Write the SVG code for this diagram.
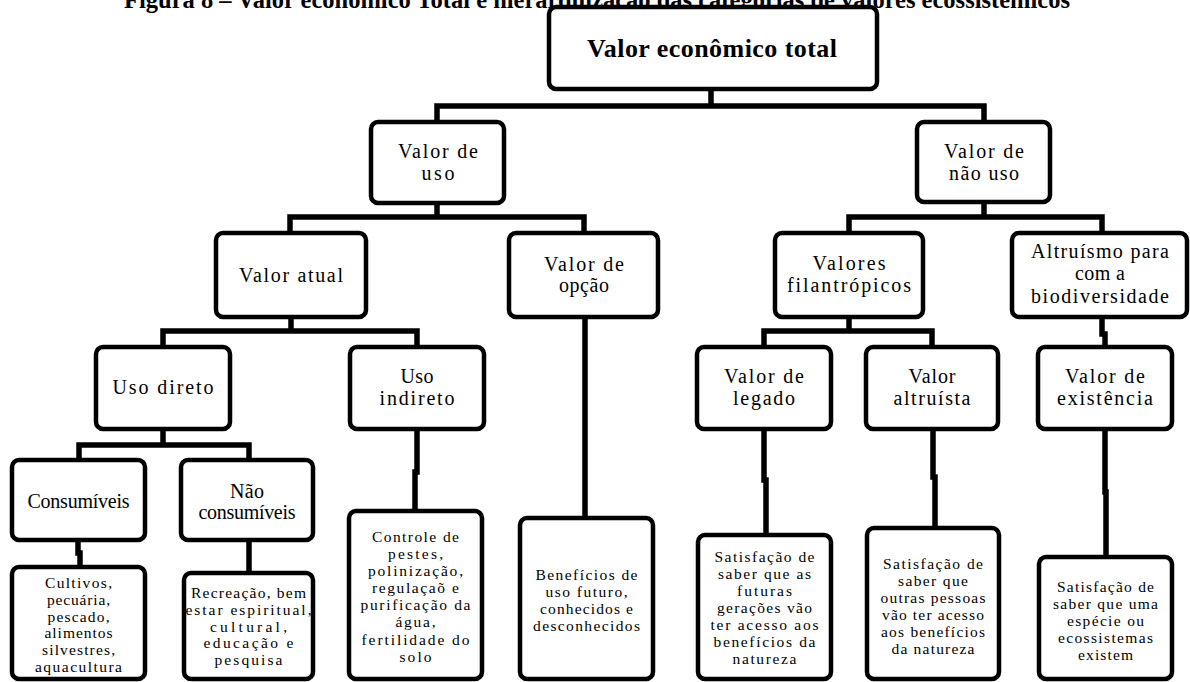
<svg xmlns="http://www.w3.org/2000/svg" width="1190" height="682" viewBox="0 0 1190 682">
<style>
.box{fill:#fff;stroke:#000;stroke-width:4.5}
.conn{fill:none;stroke:#000;stroke-width:5.5;stroke-linejoin:miter;stroke-linecap:butt}
.lbl{font-family:"Liberation Serif","Times New Roman",serif;font-size:20px;text-anchor:middle;fill:#000}
.sm{font-family:"Liberation Serif","Times New Roman",serif;font-size:15.5px;text-anchor:middle;fill:#000}
.ttl{font-family:"Liberation Serif","Times New Roman",serif;font-weight:bold;text-anchor:middle;fill:#000}
</style>
<rect width="1190" height="682" fill="#fff"/>
<text class="ttl" x="597" y="8" font-size="24.5">Figura 8 – Valor econômico Total e hierarquização das categorias de valores ecossistêmicos</text>
<g id="connectors">
<path class="conn" d="M711,89 V106"/>
<path class="conn" d="M437,122 V106 H984 V122"/>
<path class="conn" d="M437,203 V217"/>
<path class="conn" d="M290,233 V217 H584 V233"/>
<path class="conn" d="M984,202 V217"/>
<path class="conn" d="M849,233 V217 H1102 V233"/>
<path class="conn" d="M291,317 V331"/>
<path class="conn" d="M163,347 V331 H417 V347"/>
<path class="conn" d="M849,317 V331"/>
<path class="conn" d="M764,347 V331 H932 V347"/>
<path class="conn" d="M1102,317 V334 H1105 V347"/>
<path class="conn" d="M163,429 V445"/>
<path class="conn" d="M79,460 V445 H249 V460"/>
<path class="conn" d="M78,540 V553 H80 V567"/>
<path class="conn" d="M249,540 V573"/>
<path class="conn" d="M417,429 V472 H415 V511"/>
<path class="conn" d="M585,317 V518"/>
<path class="conn" d="M764,429 V480 H766 V535"/>
<path class="conn" d="M933,429 V477 H935 V528"/>
<path class="conn" d="M1105,429 V492 H1106 V557"/>
</g>
<g id="n-total"><rect class="box" x="549" y="7" width="328" height="82" rx="7"/><text class="ttl" x="712" y="57" font-size="26" textLength="250" lengthAdjust="spacing">Valor econômico total</text></g>
<g id="n-uso"><rect class="box" x="371" y="122" width="133" height="81" rx="7"/><text class="lbl" x="438" y="158" textLength="80">Valor de</text><text class="lbl" x="438" y="180" textLength="33">uso</text></g>
<g id="n-naouso"><rect class="box" x="917" y="122" width="133" height="80" rx="7"/><text class="lbl" x="984" y="158" textLength="80">Valor de</text><text class="lbl" x="984" y="180" textLength="70">não uso</text></g>
<g id="n-atual"><rect class="box" x="216" y="233" width="150" height="84" rx="7"/><text class="lbl" x="291" y="282" textLength="104">Valor atual</text></g>
<g id="n-opcao"><rect class="box" x="509" y="233" width="149" height="84" rx="7"/><text class="lbl" x="584" y="271" textLength="80">Valor de</text><text class="lbl" x="584" y="292" textLength="50">opção</text></g>
<g id="n-filan"><rect class="box" x="775" y="233" width="148" height="84" rx="7"/><text class="lbl" x="849" y="270" textLength="73">Valores</text><text class="lbl" x="849" y="292" textLength="124">filantrópicos</text></g>
<g id="n-altru"><rect class="box" x="1012" y="233" width="175" height="84" rx="7"/><text class="lbl" x="1100" y="258" textLength="138">Altruísmo para</text><text class="lbl" x="1100" y="280" textLength="50">com a</text><text class="lbl" x="1100" y="303" textLength="138">biodiversidade</text></g>
<g id="n-direto"><rect class="box" x="96" y="347" width="134" height="82" rx="7"/><text class="lbl" x="163" y="394" textLength="101">Uso direto</text></g>
<g id="n-indireto"><rect class="box" x="350" y="347" width="134" height="82" rx="7"/><text class="lbl" x="417" y="383" textLength="33">Uso</text><text class="lbl" x="417" y="405" textLength="75">indireto</text></g>
<g id="n-legado"><rect class="box" x="697" y="347" width="134" height="82" rx="7"/><text class="lbl" x="764" y="383" textLength="80">Valor de</text><text class="lbl" x="764" y="405" textLength="62">legado</text></g>
<g id="n-altruista"><rect class="box" x="866" y="347" width="132" height="82" rx="7"/><text class="lbl" x="932" y="383" textLength="47">Valor</text><text class="lbl" x="932" y="405" textLength="77">altruísta</text></g>
<g id="n-existencia"><rect class="box" x="1038" y="347" width="134" height="82" rx="7"/><text class="lbl" x="1105" y="383" textLength="80">Valor de</text><text class="lbl" x="1105" y="405" textLength="96">existência</text></g>
<g id="n-consum"><rect class="box" x="12" y="460" width="133" height="80" rx="7"/><text class="lbl" x="78.5" y="508" textLength="102">Consumíveis</text></g>
<g id="n-naoconsum"><rect class="box" x="181" y="460" width="132" height="80" rx="7"/><text class="lbl" x="247" y="498" textLength="34">Não</text><text class="lbl" x="247" y="519" textLength="97">consumíveis</text></g>
<g id="d-cultivos"><rect class="box" x="12" y="567" width="133" height="112" rx="7"/>
<text class="sm" x="78.5" y="588" textLength="67">Cultivos,</text><text class="sm" x="78.5" y="605" textLength="63">pecuária,</text><text class="sm" x="78.5" y="622" textLength="62">pescado,</text><text class="sm" x="78.5" y="638" textLength="68">alimentos</text><text class="sm" x="78.5" y="655" textLength="73">silvestres,</text><text class="sm" x="78.5" y="672" textLength="87">aquacultura</text></g>
<g id="d-recreacao"><rect class="box" x="184" y="573" width="129" height="106" rx="7"/>
<text class="sm" x="248.5" y="598" textLength="115">Recreação, bem</text><text class="sm" x="248.5" y="615" textLength="126">estar espiritual,</text><text class="sm" x="248.5" y="632" textLength="77">cultural,</text><text class="sm" x="248.5" y="648" textLength="90">educação e</text><text class="sm" x="248.5" y="665" textLength="68">pesquisa</text></g>
<g id="d-controle"><rect class="box" x="349" y="511" width="133" height="168" rx="7"/>
<text class="sm" x="415.5" y="542" textLength="87">Controle de</text><text class="sm" x="415.5" y="559" textLength="55">pestes,</text><text class="sm" x="415.5" y="576" textLength="95">polinização,</text><text class="sm" x="415.5" y="593" textLength="87">regulaçaõ e</text><text class="sm" x="415.5" y="610" textLength="110">purificação da</text><text class="sm" x="415.5" y="627" textLength="40">água,</text><text class="sm" x="415.5" y="645" textLength="108">fertilidade do</text><text class="sm" x="415.5" y="662" textLength="32">solo</text></g>
<g id="d-beneficios"><rect class="box" x="520" y="518" width="133" height="161" rx="7"/>
<text class="sm" x="586.5" y="580" textLength="102">Benefícios de</text><text class="sm" x="586.5" y="597" textLength="82">uso futuro,</text><text class="sm" x="586.5" y="614" textLength="93">conhecidos e</text><text class="sm" x="586.5" y="631" textLength="107">desconhecidos</text></g>
<g id="d-legado"><rect class="box" x="698" y="535" width="133" height="144" rx="7"/>
<text class="sm" x="764.5" y="562" textLength="100">Satisfação de</text><text class="sm" x="764.5" y="579" textLength="93">saber que as</text><text class="sm" x="764.5" y="596" textLength="55">futuras</text><text class="sm" x="764.5" y="613" textLength="95">gerações vão</text><text class="sm" x="764.5" y="630" textLength="108">ter acesso aos</text><text class="sm" x="764.5" y="647" textLength="102">benefícios da</text><text class="sm" x="764.5" y="664" textLength="64">natureza</text></g>
<g id="d-altruista"><rect class="box" x="867" y="528" width="132" height="151" rx="7"/>
<text class="sm" x="933" y="569" textLength="100">Satisfação de</text><text class="sm" x="933" y="586" textLength="70">saber que</text><text class="sm" x="933" y="603" textLength="105">outras pessoas</text><text class="sm" x="933" y="620" textLength="102">vão ter acesso</text><text class="sm" x="933" y="637" textLength="104">aos benefícios</text><text class="sm" x="933" y="654" textLength="83">da natureza</text></g>
<g id="d-existencia"><rect class="box" x="1039" y="557" width="133" height="122" rx="7"/>
<text class="sm" x="1105.5" y="592" textLength="97">Satisfação de</text><text class="sm" x="1105.5" y="609" textLength="105">saber que uma</text><text class="sm" x="1105.5" y="626" textLength="77">espécie ou</text><text class="sm" x="1105.5" y="643" textLength="95">ecossistemas</text><text class="sm" x="1105.5" y="660" textLength="55">existem</text></g>
</svg>
